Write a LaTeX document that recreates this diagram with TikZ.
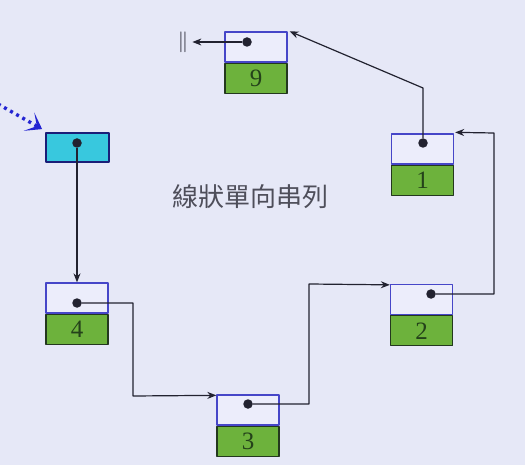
\documentclass[tikz,border=0pt]{standalone}
\usepackage{fontspec}
\newfontfamily\cjkfont{Noto Sans CJK TC}
\newfontfamily\numfont{Liberation Serif}
\usetikzlibrary{arrows.meta,positioning}
\definecolor{bg}{HTML}{E6E8F7}
\definecolor{cellpale}{HTML}{ECEDFB}
\definecolor{cellblue}{HTML}{4646C8}
\definecolor{leaf}{HTML}{6DB23C}
\definecolor{leafedge}{HTML}{23381E}
\definecolor{digit}{HTML}{24421A}
\definecolor{cyanhead}{HTML}{38C8DE}
\definecolor{navy}{HTML}{1A1E78}
\definecolor{ink}{HTML}{222230}
\definecolor{pointer}{HTML}{2424D2}
\definecolor{caption}{HTML}{4E4E5A}

\begin{document}
\begin{tikzpicture}[x=1pt,y=-1pt,line join=round,
  ptrcell/.style={draw=cellblue,fill=cellpale,line width=1.3pt,minimum width=62pt,minimum height=30pt,inner sep=0pt},
  datacell/.style={draw=leafedge,fill=leaf,line width=1.3pt,minimum width=62pt,minimum height=30pt,inner sep=0pt,
    font=\numfont\fontsize{25}{25}\selectfont,text=digit},
  headcell/.style={draw=navy,fill=cyanhead,line width=1.8pt,minimum width=63pt,minimum height=29pt,inner sep=0pt},
  knob/.style={circle,fill=ink,minimum size=9.5pt,inner sep=0pt},
  link/.style={ink,line width=1.2pt,-{Stealth[length=9pt,width=7pt]}}]
  \fill[bg] (0,0) rectangle (525,465);
  \useasboundingbox (0,0) rectangle (525,465);

  % ===== head pointer =====
  \node[headcell] (hd) at (77.5,147.5) {};
  \coordinate (src) at (-2,104);
  \draw[pointer,line width=3.4pt,dash pattern=on 3pt off 4pt,
    -{Stealth[length=15pt,width=21pt,inset=9pt]}] (src) -- ([shift={(-3,-3)}]hd.north west);

  % ===== list nodes: pointer cell on top, data cell below =====
  \node[ptrcell] (p9) at (256,47) {};
  \node[datacell,below=0pt of p9] (d9) {9};
  \node[ptrcell] (p1) at (422.5,149) {};
  \node[datacell,below=0pt of p1] (d1) {1};
  \node[ptrcell] (p4) at (77,298) {};
  \node[datacell,below=0pt of p4] (d4) {4};
  \node[ptrcell] (p3) at (248,410) {};
  \node[datacell,below=0pt of p3] (d3) {3};
  \node[ptrcell] (p2) at (421.5,299.5) {};
  \node[datacell,below=0pt of p2] (d2) {2};

  \node[font=\cjkfont\fontsize{26}{26}\selectfont,text=caption] (ttl) at (250,197) {線狀單向串列};
  \node[font=\fontsize{20}{20}\selectfont,text=ink,inner sep=1pt] (nil) at (183,42) {$\|$};

  % dots in the pointer cells
  \node[knob] (kh) at (77,143) {};
  \node[knob] (k9) at (247,42) {};
  \node[knob] (k1) at (423,143) {};
  \node[knob] (k4) at (77,303) {};
  \node[knob] (k3) at (248,404) {};
  \node[knob] (k2) at (431,294) {};

  % ===== links =====
  \coordinate (b43) at (133,396);
  \coordinate (b32) at (309,284);
  \coordinate (b21) at (494,133);
  \coordinate (b19) at (423,88);
  \draw[link] (kh) -- (p4.north);
  \draw[link] (k4) -| (b43) -- ([yshift=-1pt]p3.north west);
  \draw[link] (k3) -| (b32) -- ([yshift=-1pt]p2.north west);
  \draw[link] (k2) -| (b21) -- ([shift={(1,-1)}]p1.north east);
  \draw[link] (k1) -- (b19) -- ([xshift=2pt]p9.north east);
  \draw[link] (k9) -- ([xshift=3pt]nil.east);
\end{tikzpicture}
\end{document}
